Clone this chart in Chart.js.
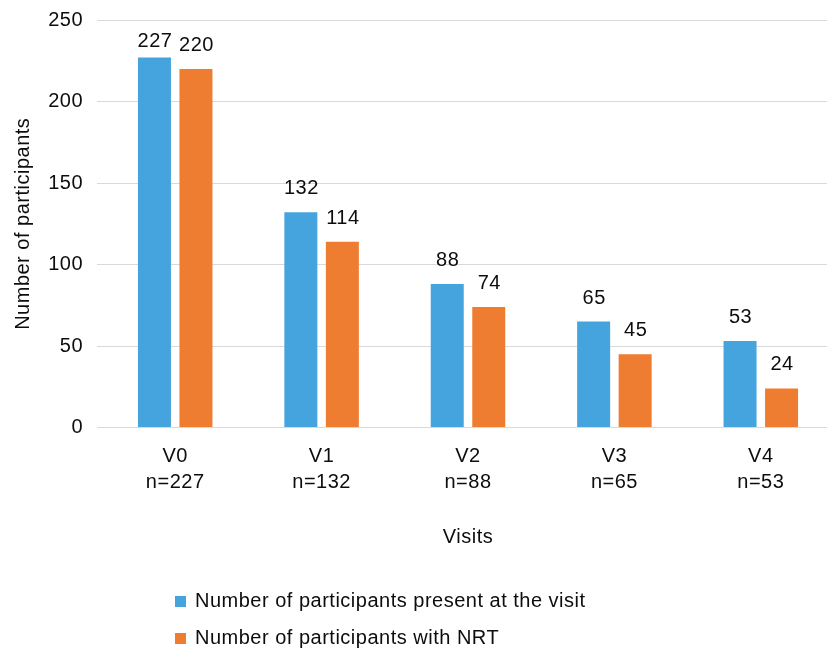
<!DOCTYPE html>
<html>
<head>
<meta charset="utf-8">
<script src="https://cdn.jsdelivr.net/npm/chart.js@4/dist/chart.umd.min.js"></script>
<style>
  html, body { margin: 0; padding: 0; background: #fff; overflow: hidden; }
  #wrap { width: 834px; height: 652px; }
</style>
</head>
<body>
<div id="wrap"><canvas id="c" width="834" height="652"></canvas></div>
<script>
const categories = [["V0", "n=227"], ["V1", "n=132"], ["V2", "n=88"], ["V3", "n=65"], ["V4", "n=53"]];
const presentValues = [227, 132, 88, 65, 53];
const nrtValues = [220, 114, 74, 45, 24];
const seriesLabels = ["Number of participants present at the visit", "Number of participants with NRT"];
const seriesColors = ["#45A4DE", "#EE7D31"];
const yTicks = { min: 0, max: 250, step: 50 };

const FONT = "'Liberation Sans', Arial, sans-serif";
const FS = 20;
const TEXT = "#0d0d0d";
const SPACING = "0.5px";

const spacingPlugin = {
  id: "spacing",
  beforeUpdate(chart) { chart.ctx.letterSpacing = SPACING; },
  beforeLayout(chart) { chart.ctx.letterSpacing = SPACING; },
  beforeDraw(chart) { chart.ctx.letterSpacing = SPACING; }
};

const valueLabels = {
  id: "valueLabels",
  afterDatasetsDraw(chart) {
    const ctx = chart.ctx;
    ctx.save();
    ctx.letterSpacing = SPACING;
    ctx.font = FS + "px " + FONT;
    ctx.fillStyle = TEXT;
    ctx.textAlign = "center";
    ctx.textBaseline = "alphabetic";
    chart.data.datasets.forEach((ds, i) => {
      const meta = chart.getDatasetMeta(i);
      meta.data.forEach((bar, j) => {
        const y = Math.max(bar.y - 18, chart.chartArea.top + 26.5);
        ctx.fillText(String(ds.data[j]), bar.x + 0.5, y);
      });
    });
    ctx.restore();
  }
};

const customLegend = {
  id: "customLegend",
  afterDraw(chart) {
    const ctx = chart.ctx;
    ctx.save();
    ctx.letterSpacing = SPACING;
    ctx.font = FS + "px " + FONT;
    ctx.textAlign = "left";
    ctx.textBaseline = "alphabetic";
    const baseX = 175, firstBaseline = 607, rowGap = 37;
    chart.data.datasets.forEach((ds, i) => {
      const yb = firstBaseline + i * rowGap;
      ctx.fillStyle = ds.backgroundColor;
      ctx.fillRect(baseX, yb - 11, 11, 11);
      ctx.fillStyle = TEXT;
      ctx.fillText(ds.label, baseX + 20, yb);
    });
    ctx.restore();
  }
};

new Chart(document.getElementById("c"), {
  type: "bar",
  data: {
    labels: categories,
    datasets: [
      { label: seriesLabels[0], data: presentValues, backgroundColor: seriesColors[0] },
      { label: seriesLabels[1], data: nrtValues, backgroundColor: seriesColors[1] }
    ]
  },
  options: {
    responsive: false,
    animation: false,
    devicePixelRatio: 1,
    categoryPercentage: 0.567,
    barPercentage: 0.795,
    layout: { padding: { top: 20, left: 0, right: 0, bottom: 99.5 } },
    plugins: { legend: { display: false }, tooltip: { enabled: false } },
    scales: {
      x: {
        grid: { display: false, drawTicks: false },
        border: { display: false },
        ticks: {
          color: TEXT,
          padding: 16,
          font: { family: FONT, size: FS, lineHeight: 1.3 }
        },
        title: {
          display: true,
          text: "Visits",
          color: TEXT,
          padding: { top: 0, bottom: 3 },
          font: { family: FONT, size: FS }
        },
        afterFit(scale) { scale.height = 125; }
      },
      y: {
        min: yTicks.min,
        max: yTicks.max,
        border: { display: false },
        grid: { color: "#d9d9d9", lineWidth: 1, drawTicks: true, tickLength: 5 },
        ticks: {
          stepSize: yTicks.step,
          color: TEXT,
          padding: 14,
          font: { family: FONT, size: FS, lineHeight: 0.5 }
        },
        title: {
          display: true,
          text: "Number of participants",
          color: TEXT,
          padding: { top: 11, bottom: 0 },
          font: { family: FONT, size: FS }
        },
        afterFit(scale) { scale.width = 102; }
      }
    }
  },
  plugins: [spacingPlugin, valueLabels, customLegend]
});
</script>
</body>
</html>
